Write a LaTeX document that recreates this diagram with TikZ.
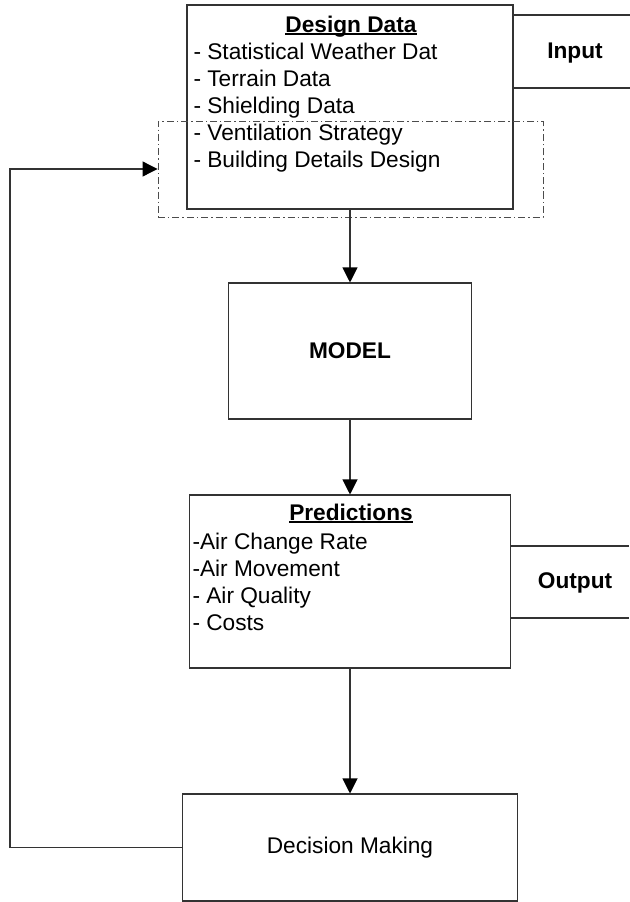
\documentclass[tikz,border=0pt]{standalone}
\usepackage{fontspec}
\setmainfont{Liberation Sans}
\usepackage{tikz}
\usetikzlibrary{arrows.meta}
\tikzset{every picture/.style={line width=0.6pt, black!80}}
\tikzset{box/.style={draw, rectangle, inner sep=0pt, text=black}}
\tikzset{txt/.style={inner sep=0pt, text=black, font=\fontsize{12.9pt}{15.4pt}\selectfont}}
\tikzset{tip/.style={-{Triangle[length=0.3cm, width=0.3cm, color=black]}}}
\tikzset{groupline/.style={draw, line width=0.5pt, black!70, dash pattern=on 4pt off 1.7pt on 0.8pt off 1.7pt}}
\newcommand{\headline}[1]{\setbox0\hbox{\bfseries #1}\rlap{\rule[-1.6pt]{\wd0}{0.9pt}}\box0}

\begin{document}
\begin{tikzpicture}
\useasboundingbox (0,0) rectangle (12.58,-18.04);

\node[box, minimum width=6.52cm, minimum height=4.08cm] (design) at (7.0,-2.14) {};
\node[txt, anchor=base] (designhead) at (7.02,-0.64) {\headline{Design Data}};
\foreach \t [count=\i] in {- Statistical Weather Dat, - Terrain Data, - Shielding Data,
    - Ventilation Strategy, - Building Details Design} {
    \node[txt, anchor=base west] (d\i) at (3.86,{-1.19-0.54*(\i-1)}) {\t};
}
\node[groupline, rectangle, minimum width=7.70cm, minimum height=1.92cm] (group) at (7.01,-3.38) {};
\draw (design.east |- 0,-0.30) -- ++(2.32,0);
\draw (design.east |- 0,-1.76) -- ++(2.32,0);
\node[txt, anchor=base, font=\fontsize{12.9pt}{15.4pt}\selectfont\bfseries] (input) at (11.5,-1.17) {Input};

\node[box, minimum width=4.86cm, minimum height=2.72cm, txt, font=\fontsize{12.9pt}{15.4pt}\selectfont\bfseries] (model) at (7.0,-7.02) {MODEL};

\node[box, minimum width=6.42cm, minimum height=3.46cm] (pred) at (7.0,-11.63) {};
\node[txt, anchor=base] (predhead) at (7.02,-10.40) {\headline{Predictions}};
\foreach \t [count=\i] in {-Air Change Rate, -Air Movement, - Air Quality, - Costs} {
    \node[txt, anchor=base west] (p\i) at (3.84,{-10.98-0.54*(\i-1)}) {\t};
}
\draw (pred.east |- 0,-10.92) -- ++(2.36,0);
\draw (pred.east |- 0,-12.36) -- ++(2.36,0);
\node[txt, anchor=base, font=\fontsize{12.9pt}{15.4pt}\selectfont\bfseries] (output) at (11.5,-11.76) {Output};

\node[box, minimum width=6.70cm, minimum height=2.14cm, txt] (decision) at (7.0,-16.95) {Decision Making};

\draw[tip] (design) -- (model);
\draw[tip] (model) -- (pred);
\draw[tip] (pred) -- (decision);
\draw[tip] (decision.west) -- ++(-3.44,0) |- (group.west);
\end{tikzpicture}
\end{document}
